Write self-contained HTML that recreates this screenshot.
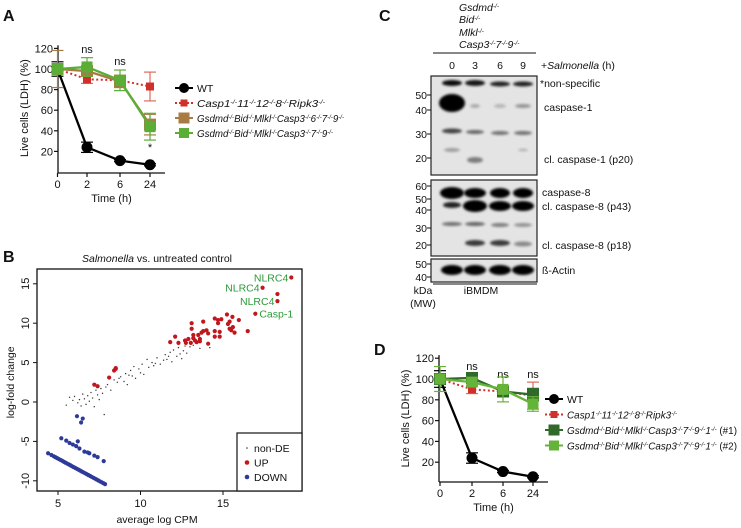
<!DOCTYPE html>
<html><head><meta charset="utf-8">
<style>
html,body{margin:0;padding:0;background:#fff;}
svg{display:block;font-family:"Liberation Sans",Arial,sans-serif;}
text{fill:#111;}
</style></head>
<body>
<svg id="fig" width="741" height="528" viewBox="0 0 741 528" xmlns="http://www.w3.org/2000/svg">
<defs>
<filter id="blur1" x="-50%" y="-50%" width="200%" height="200%"><feGaussianBlur stdDeviation="1.3"/></filter>
</defs>
<text x="3" y="21" font-size="16" font-weight="bold">A</text>
<text x="3" y="262" font-size="16" font-weight="bold">B</text>
<text x="379" y="21" font-size="16" font-weight="bold">C</text>
<text x="374" y="355" font-size="16" font-weight="bold">D</text>

<g id="panelA"></g>
<g id="panelB"></g>
<g id="panelC"></g>
<g id="panelD"></g>
</svg>
<script>
// ---------- Data: panel A ----------
const timeCats = ["0","2","6","24"];
const yTicksLive = [20,40,60,80,100,120];
const aWT = [100,24,11,7];
const aWTerr = [7,5,1,1];
const aCasp1 = [100,90,89,83];
const aCasp1err = [3,4,3,14];
const aG6 = [100,98,88,46];
const aG6err = [18,4,6,10];
const aG7 = [100,102,89,44];
const aG7err = [5,9,10,13];
const aSig = ["","ns","ns","*"];
// ---------- Data: panel D ----------
const dWT = [100,24,11,6];
const dWTerr = [8,5,1,1];
const dCasp1 = [100,90,88,84];
const dCasp1err = [3,4,5,13];
const dN1 = [100,101,88,85];
const dN1err = [4,3,5,6];
const dN2 = [100,97,90,76];
const dN2err = [12,4,12,7];
const dSig = ["","ns","ns","ns"];
// ---------- Data: panel B ----------
const bXTicks = [5,10,15];
const bYTicks = [-10,-5,0,5,10,15];
const upX = [19.14,17.4,18.3,18.3,16.96,15.24,15.57,14.7,15.96,14.5,14.9,13.1,13.8,14.7,15.3,15.4,13.1,15.4,15.6,15.5,15.7,16.5,14.5,14.8,13.8,14.0,13.7,14.1,13.5,14.5,14.8,13.2,13.2,13.6,13.3,12.9,12.7,12.75,13.05,13.4,13.6,14.1,12.3,12.1,11.8,8.5,8.5,8.4,8.1,7.2,7.4];
const upY = [15.8,14.5,13.7,12.8,11.2,11.1,10.8,10.4,10.4,10.6,10.5,10.0,10.2,10.0,9.9,10.2,9.3,9.3,9.5,9.1,8.8,9.0,9.0,8.9,9.0,9.1,8.8,8.7,8.5,8.3,8.3,8.5,8.1,8.0,7.8,8.0,7.8,7.5,7.5,7.6,7.7,7.4,7.5,8.3,7.6,4.2,4.3,4.0,3.1,2.2,2.0];
const downX = [6.15,6.5,6.4,6.2,5.2,5.5,5.7,5.9,6.1,6.3,6.6,6.8,6.9,7.2,7.4,7.77,4.4,4.6,4.75,4.85,4.95,5.05,5.15,5.25,5.35,5.45,5.55,5.65,5.75,5.85,5.95,6.05,6.15,6.25,6.35,6.45,6.55,6.65,6.75,6.85,6.95,7.05,7.15,7.25,7.35,7.45,7.55,7.65,7.75,7.85];
const downY = [-1.8,-2.1,-2.6,-5.0,-4.6,-4.9,-5.2,-5.4,-5.6,-5.9,-6.3,-6.4,-6.5,-6.8,-7.0,-7.5,-6.5,-6.73,-6.9,-7.01,-7.12,-7.24,-7.35,-7.46,-7.58,-7.69,-7.81,-7.92,-8.03,-8.15,-8.26,-8.37,-8.49,-8.6,-8.71,-8.83,-8.94,-9.05,-9.17,-9.28,-9.39,-9.51,-9.62,-9.73,-9.85,-9.96,-10.08,-10.19,-10.3,-10.42];
const nonX = [5.5,5.7,5.9,6.0,6.2,6.3,6.4,6.5,6.6,6.7,6.8,6.9,7.0,7.1,7.2,7.3,7.4,7.5,7.6,7.7,7.8,7.9,8.0,8.2,8.4,8.6,8.8,9.0,9.1,9.2,9.4,9.5,9.6,9.7,9.9,10.0,10.1,10.2,10.4,10.5,10.7,10.8,11.0,11.2,11.4,11.5,11.6,11.8,11.9,12.0,12.2,12.3,12.4,12.6,12.7,12.8,13.0,13.2,13.6,14.2,8.7,9.3,10.9,11.7,12.5];
const nonY = [-0.4,0.6,0.2,0.7,-0.1,0.3,-0.5,1.0,0.4,-0.3,0.8,0.1,1.2,0.5,-0.6,1.5,0.9,0.3,1.7,1.1,-1.6,1.9,2.2,1.5,2.8,2.5,3.2,2.6,3.6,2.2,4.0,3.3,4.5,3.0,4.2,3.7,4.8,3.5,5.4,4.4,5.0,4.6,5.6,4.8,5.3,6.0,5.4,6.3,5.1,6.6,5.8,6.9,6.1,6.5,7.1,6.2,7.0,7.2,6.8,6.9,3.0,3.4,4.9,5.8,5.5];
const labelNames = ["NLRC4","NLRC4","NLRC4","Casp-1"];
const labelIdx = [0,1,3,4];

const NS="http://www.w3.org/2000/svg";
function mk(parent,tag,attrs,txt){const e=document.createElementNS(NS,tag);for(const k in attrs)e.setAttribute(k,attrs[k]);if(txt!==undefined)e.textContent=txt;parent.appendChild(e);return e;}

const sup='<tspan font-size="6.5" baseline-shift="super">-/-</tspan>';
function geno(parts,extra){return '<tspan font-style="italic">'+parts.map(p=>p+sup).join('')+'</tspan>'+(extra||'');}

function lineChart(g,cfg){
  const yS=v=>cfg.y0-v*cfg.ys;
  const xS=i=>cfg.xs[i];
  let ax=mk(g,'line',{x1:cfg.ax,y1:cfg.y0-123*cfg.ys,x2:cfg.ax,y2:cfg.base,stroke:'#111','stroke-width':1.3});
  
  
  let bx=mk(g,'line',{x1:cfg.ax,y1:cfg.base,x2:cfg.axEnd,y2:cfg.base,stroke:'#111','stroke-width':1.3});
  
  
  yTicksLive.forEach(v=>{
    mk(g,'line',{x1:cfg.ax-4,y1:yS(v),x2:cfg.ax,y2:yS(v),stroke:'#111','stroke-width':1.2});
    let t=mk(g,'text',{x:cfg.ax-5,y:yS(v)+4,'font-size':11,'text-anchor':'end'},String(v));
    
    
  });
  timeCats.forEach((c,i)=>{
    mk(g,'line',{x1:xS(i),y1:cfg.base,x2:xS(i),y2:cfg.base+4,stroke:'#111','stroke-width':1.2});
    let t=mk(g,'text',{x:xS(i),y:cfg.base+15,'font-size':11,'text-anchor':'middle'},c);
    
    
    if(cfg.sig[i]){
      let s=mk(g,'text',{x:xS(i),y:cfg.sigY[i],'font-size':11,'text-anchor':'middle'},cfg.sig[i]);
      
      
    }
  });
  let xt=mk(g,'text',{x:(cfg.ax+cfg.axEnd)/2,y:cfg.base+29,'font-size':11,'text-anchor':'middle'},'Time (h)');
  
  
  let yt=mk(g,'text',{x:0,y:0,'font-size':11,'text-anchor':'middle',transform:`translate(${cfg.ax-30},${yS(62)}) rotate(-90)`},'Live cells (LDH) (%)');
  
  
  cfg.series.forEach((s,si)=>{
    const sg=mk(g,'g',{});
    
    
    s.vals.forEach((v,i)=>{
      const e=s.err[i],x=xS(i);
      mk(sg,'line',{x1:x,y1:yS(v+e),x2:x,y2:yS(v-e),stroke:s.ec||s.c,'stroke-width':1.2});
      mk(sg,'line',{x1:x-6,y1:yS(v+e),x2:x+6,y2:yS(v+e),stroke:s.ec||s.c,'stroke-width':1.2});
      mk(sg,'line',{x1:x-6,y1:yS(v-e),x2:x+6,y2:yS(v-e),stroke:s.ec||s.c,'stroke-width':1.2});
    });
    const pts=s.vals.map((v,i)=>xS(i)+','+yS(v)).join(' ');
    const pl=mk(sg,'polyline',{points:pts,fill:'none',stroke:s.c,'stroke-width':s.dash?2:2.3,'stroke-dasharray':s.dash?'2,2.5':'none'});
    
    
    s.vals.forEach((v,i)=>{
      let m;
      if(s.shape==='circle'){m=mk(sg,'circle',{cx:xS(i),cy:yS(v),r:5.5,fill:s.c});}
      else{const r=s.size;m=mk(sg,'rect',{x:xS(i)-r,y:yS(v)-r,width:2*r,height:2*r,fill:s.c});}
      
      
    });
    const ly=cfg.legY+si*cfg.legDy, lx=cfg.legX;
    const lg=mk(g,'g',{});
    
    
    mk(lg,'line',{x1:lx,y1:ly,x2:lx+18,y2:ly,stroke:s.c,'stroke-width':2,'stroke-dasharray':s.dash?'2,2':'none'});
    if(s.shape==='circle')mk(lg,'circle',{cx:lx+9,cy:ly,r:5,fill:s.c});
    else mk(lg,'rect',{x:lx+9-(s.size-0.5),y:ly-(s.size-0.5),width:2*s.size-1,height:2*s.size-1,fill:s.c});
    const t=mk(lg,'text',{x:lx+22,y:ly+4,'font-size':10.5});
    t.innerHTML=s.label;
    if(s.tl){t.setAttribute('textLength',s.tl);t.setAttribute('lengthAdjust','spacingAndGlyphs');}
  });
}

lineChart(document.getElementById('panelA'),{
  ax:58,axEnd:165,base:173,y0:172,ys:1.03,xs:[57.5,87,120,150],
  sig:aSig,sigY:[0,53,65,151],
  legX:175,legY:88,legDy:15,
  series:[
    {name:'wt',vals:aWT,err:aWTerr,c:'#000',shape:'circle',label:'WT'},
    {name:'casp1-11-12-8-ripk3',vals:aCasp1,err:aCasp1err,c:'#d0302a',ec:'#e06a5a',dash:true,shape:'sq',size:4,label:geno(['Casp1','11','12','8','Ripk3']),tl:128},
    {name:'gsdmd-bid-mlkl-casp3-6-7-9',vals:aG6,err:aG6err,c:'#a87b45',shape:'sq',size:6,label:geno(['Gsdmd','Bid','Mlkl','Casp3','6','7','9']),tl:147},
    {name:'gsdmd-bid-mlkl-casp3-7-9',vals:aG7,err:aG7err,c:'#5aae35',shape:'sq',size:5.5,label:geno(['Gsdmd','Bid','Mlkl','Casp3','7','9']),tl:136}
  ]
});
lineChart(document.getElementById('panelD'),{
  ax:439,axEnd:548,base:482,y0:483,ys:1.04,xs:[440,472,503,533],
  sig:dSig,sigY:[0,370,378,378],
  legX:545,legY:399,legDy:15.5,
  series:[
    {name:'wt',vals:dWT,err:dWTerr,c:'#000',shape:'circle',label:'WT'},
    {name:'casp1-11-12-8-ripk3',vals:dCasp1,err:dCasp1err,c:'#d0302a',ec:'#e06a5a',dash:true,shape:'sq',size:4,label:geno(['Casp1','11','12','8','Ripk3']),tl:110},
    {name:'clone-1',vals:dN1,err:dN1err,c:'#2f6a2a',shape:'sq',size:6,label:geno(['Gsdmd','Bid','Mlkl','Casp3','7','9','1'],' (#1)'),tl:170},
    {name:'clone-2',vals:dN2,err:dN2err,c:'#66b33a',shape:'sq',size:5.5,label:geno(['Gsdmd','Bid','Mlkl','Casp3','7','9','1'],' (#2)'),tl:170}
  ]
});

// ---------- Panel B ----------
(function(){
  const g=document.getElementById('panelB');
  const L=37,R=302,T=269,B=491;
  const xS=v=>58+(v-5)*16.5;
  const yS=v=>402-v*7.88;
  let box=mk(g,'rect',{x:L,y:T,width:R-L,height:B-T,fill:'none',stroke:'#111','stroke-width':1.3});
  
  
  let ti=mk(g,'text',{x:157,y:262,'font-size':10.5,'text-anchor':'middle'});
  ti.innerHTML='<tspan font-style="italic">Salmonella</tspan> vs. untreated control';
  
  
  bXTicks.forEach(v=>{
    mk(g,'line',{x1:xS(v),y1:B,x2:xS(v),y2:B+4,stroke:'#111'});
    let t=mk(g,'text',{x:xS(v),y:B+16,'font-size':11,'text-anchor':'middle'},String(v));
    
    
  });
  bYTicks.forEach(v=>{
    mk(g,'line',{x1:L-4,y1:yS(v),x2:L,y2:yS(v),stroke:'#111'});
    let t=mk(g,'text',{x:0,y:0,'font-size':11,'text-anchor':'middle',transform:`translate(${L-8},${yS(v)}) rotate(-90)`},String(v));
    
    
  });
  let xt=mk(g,'text',{x:157,y:523,'font-size':10.5,'text-anchor':'middle'},'average log CPM');
  
  
  let yt=mk(g,'text',{x:0,y:0,'font-size':10.5,'text-anchor':'middle',transform:`translate(14,${yS(2.5)}) rotate(-90)`},'log-fold change');
  
  
  nonX.forEach((x,i)=>{
    const c=mk(g,'circle',{cx:xS(x),cy:yS(nonY[i]),r:0.7,fill:'#333'});
    
    
  });
  downX.forEach((x,i)=>{
    const c=mk(g,'circle',{cx:xS(x),cy:yS(downY[i]),r:2.1,fill:'#2e3a9a'});
    
    
  });
  upX.forEach((x,i)=>{
    const c=mk(g,'circle',{cx:xS(x),cy:yS(upY[i]),r:2.1,fill:'#c0161c'});
    
    
  });
  labelIdx.forEach((k,j)=>{
    const t=mk(g,'text',{x:xS(upX[k])-3,y:yS(upY[k])+4,'font-size':10.5,'text-anchor':j===3?'start':'end'},labelNames[j]);
    if(j===3)t.setAttribute('x',xS(upX[k])+4);
    t.style.fill='#2e9a3a';
    
    
  });
  const lg=mk(g,'g',{});
  
  
  mk(lg,'rect',{x:237,y:433,width:65,height:58,fill:'#fff',stroke:'#111','stroke-width':1.2});
  [['non-DE','#333',0.8],['UP','#c0161c',2.3],['DOWN','#2e3a9a',2.3]].forEach((e,i)=>{
    const y=448+i*14.5;
    const eg=mk(lg,'g',{});
    
    
    mk(eg,'circle',{cx:247,cy:y,r:e[2],fill:e[1]});
    mk(eg,'text',{x:254,y:y+4,'font-size':10.5},e[0]);
  });
})();

// ---------- Panel C ----------
const laneX = [452,475,500,523];
const laneLabels = ["0","3","6","9"];
(function(){
  const g=document.getElementById('panelC');
  const hdr=[['Gsdmd',7],['Bid',19],['Mlkl',32],['Casp3',44]];
  hdr.forEach((h,i)=>{
    const t=mk(g,'text',{x:459,y:h[1]+4,'font-size':10.5,'font-style':'italic'});
    t.innerHTML=h[0]+sup+(i===3?'7'+sup+'9'+sup:'');
    
    
  });
  mk(g,'line',{x1:433,y1:53,x2:536,y2:53,stroke:'#111','stroke-width':1});
  laneLabels.forEach((l,i)=>{
    const t=mk(g,'text',{x:laneX[i],y:69,'font-size':10.5,'text-anchor':'middle'},l);
    
    
  });
  const st=mk(g,'text',{x:541,y:69,'font-size':10.5});
  st.innerHTML='+<tspan font-style="italic">Salmonella</tspan> (h)';
  
  
  const blots=[[76,175,'blot-caspase-1'],[180,256,'blot-caspase-8'],[259,282,'blot-actin']];
  blots.forEach(b=>{
    const r=mk(g,'rect',{x:431,y:b[0],width:106,height:b[1]-b[0],fill:'#e4e4e4',stroke:'#222','stroke-width':1.2});
    
    
  });
  const bands=[
    [0,83,10,3,0.95],[1,83,10,3,0.9],[2,84,10,2.5,0.85],[3,84,10,2.5,0.85],
    [0,103,13,9,1],[1,106,5,2,0.25],[2,106,6,2,0.2],[3,106,8,2,0.35],
    [0,131,10,2.5,0.7],[1,132,9,2,0.55],[2,133,9,2,0.5],[3,133,9,2,0.5],
    [0,150,8,2,0.3],[1,160,8,3,0.45],[3,150,5,1.5,0.2],
    [0,193,12,6,1],[1,193,11,5,1],[2,193,10,5,1],[3,193,10,5,1],
    [0,205,9,3,0.85],[1,206,12,6,1],[2,206,11,5,1],[3,206,11,5,1],
    [0,224,10,2,0.5],[1,224,10,2,0.55],[2,225,9,2,0.45],[3,225,9,2,0.35],
    [1,243,10,3,0.75],[2,243,10,3,0.75],[3,244,9,2.5,0.4],
    [0,270,11,5,1],[1,270,11,5,1],[2,270,11,5,1],[3,270,11,5,1]
  ];
  bands.forEach(b=>{
    const e=mk(g,'ellipse',{cx:laneX[b[0]],cy:b[1],rx:b[2],ry:b[3],fill:'#000','fill-opacity':b[4],filter:'url(#blur1)'});
    
    
  });
  const mw=[['50',95],['40',110],['30',134],['20',158],['60',186],['50',199],['40',210],['30',228],['20',245],['50',264],['40',277]];
  mw.forEach(m=>{
    mk(g,'line',{x1:427,y1:m[1],x2:431,y2:m[1],stroke:'#111'});
    const t=mk(g,'text',{x:427,y:m[1]+4,'font-size':10.5,'text-anchor':'end'},m[0]);
    
    
  });
  const lab=[['*non-specific',540,87],['caspase-1',544,111],['cl. caspase-1 (p20)',544,163],['caspase-8',542,196],['cl. caspase-8 (p43)',542,210],['cl. caspase-8 (p18)',542,249],['ß-Actin',542,274]];
  lab.forEach(l=>{
    const t=mk(g,'text',{x:l[1],y:l[2],'font-size':10.5},l[0]);
    
    
  });
  mk(g,'line',{x1:433,y1:284,x2:537,y2:284,stroke:'#111'});
  [['iBMDM',481,294],['kDa',423,294],['(MW)',423,307]].forEach(l=>{
    const t=mk(g,'text',{x:l[1],y:l[2],'font-size':10.5,'text-anchor':'middle'},l[0]);
    
    
  });
})();
</script>
</body></html>
